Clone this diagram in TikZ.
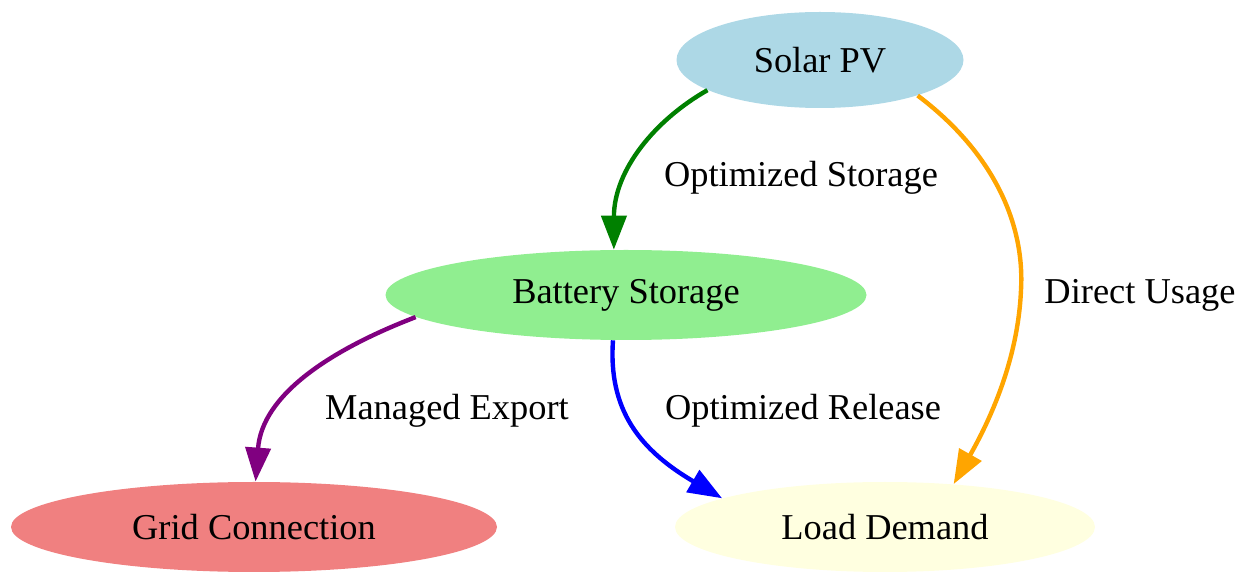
\documentclass[tikz,border=0pt]{standalone}
\usepackage{fontspec}
\setmainfont{Liberation Serif}
\usetikzlibrary{shapes.geometric,arrows.meta}
\definecolor{cSolar}{RGB}{173,216,230}
\definecolor{cBatt}{RGB}{144,238,144}
\definecolor{cGrid}{RGB}{240,128,128}
\definecolor{cLoad}{RGB}{255,255,224}
\definecolor{eGreen}{RGB}{0,128,0}
\definecolor{eOrange}{RGB}{255,165,0}
\definecolor{ePurple}{RGB}{128,0,128}
\definecolor{eBlue}{RGB}{0,0,255}
\tikzset{
  ell/.style={ellipse, inner sep=0pt, draw=none, font=\fontsize{18.2}{22}\selectfont},
  lbl/.style={inner sep=0pt, font=\fontsize{18.2}{22}\selectfont},
  flow/.style={line width=2.2pt, -{Triangle[length=17pt,width=12.5pt]}},
}
\begin{document}
\begin{tikzpicture}[x=0.5pt,y=-0.5pt]
\useasboundingbox (0,0) rectangle (1250,572);
\node[ell, fill=cSolar, minimum width=143.5pt, minimum height=48pt] (solar) at (820,60) {Solar PV};
\node[ell, fill=cBatt, minimum width=240.5pt, minimum height=45pt] (batt) at (626,295) {Battery Storage};
\node[ell, fill=cGrid, minimum width=243pt, minimum height=45pt] (grid) at (254,527) {Grid Connection};
\node[ell, fill=cLoad, minimum width=210pt, minimum height=45pt] (load) at (885,527) {Load Demand};

\node[lbl] (l1) at (801,178) {Optimized Storage};
\node[lbl] (l2) at (1140,295) {Direct Usage};
\node[lbl] (l3) at (447,411) {Managed Export};
\node[lbl] (l4) at (803,411) {Optimized Release};

\draw[flow, eGreen] (solar.195) .. controls (655,120) and (614,170) .. (batt.105);
\draw[flow, eOrange] (solar.340) .. controls (990,150) and (1025,220) .. (1021,290)
   .. controls (1018,360) and (990,420) .. (load.32);
\draw[flow, ePurple] (batt.186) .. controls (330,350) and (262,395) .. (grid.88);
\draw[flow, eBlue] (batt.254) .. controls (608,410) and (640,450) .. (load.170);
\end{tikzpicture}
\end{document}
